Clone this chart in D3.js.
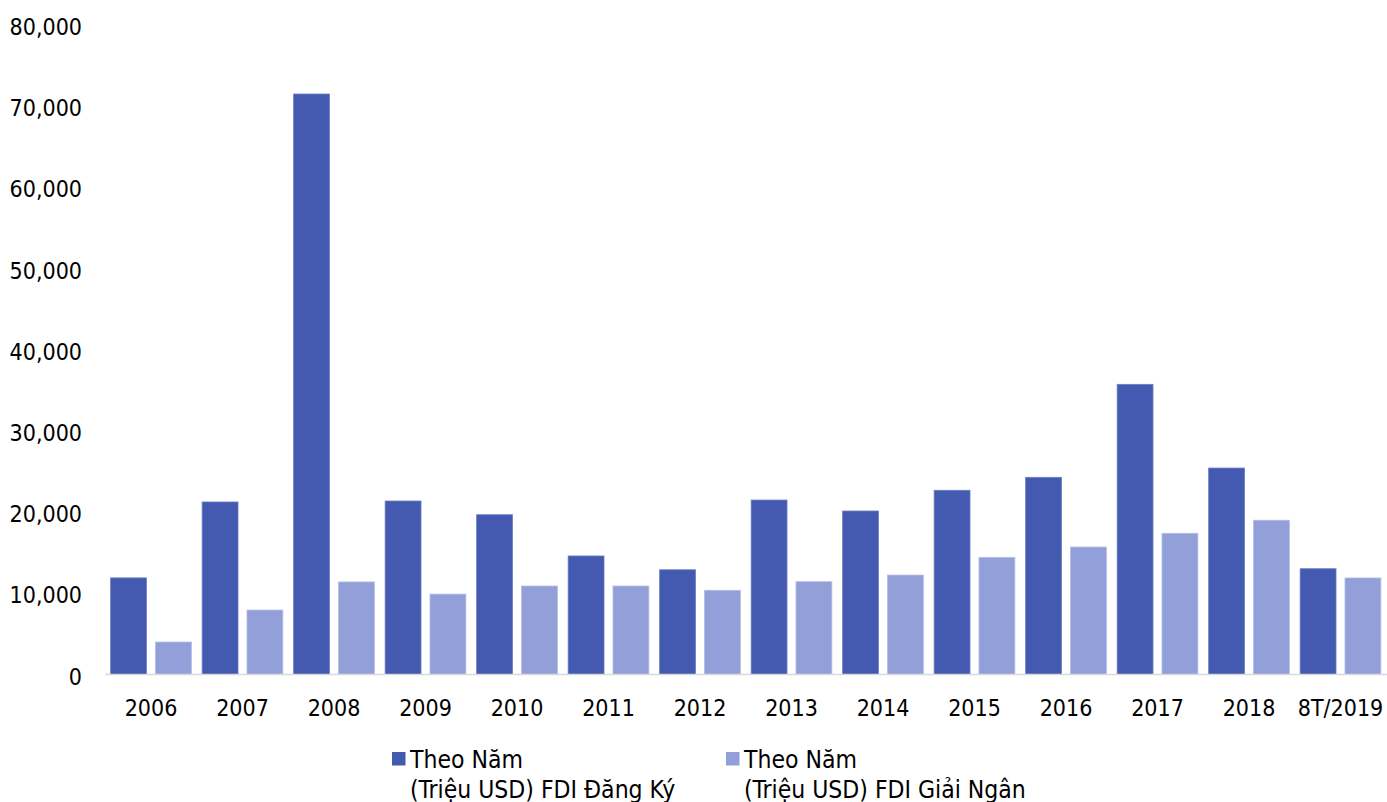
<!DOCTYPE html>
<html>
<head>
<meta charset="utf-8">
<script src="https://cdn.jsdelivr.net/npm/d3@7"></script>
<style>
  html, body { margin: 0; padding: 0; background: #fff; }
  svg text { font-family: "DejaVu Sans Condensed", "DejaVu Sans", sans-serif; font-stretch: condensed; fill: #000; }
</style>
</head>
<body>
<svg id="chart" width="1387" height="802"></svg>
<script>
const categories = ["2006","2007","2008","2009","2010","2011","2012","2013","2014","2015","2016","2017","2018","8T/2019"];
const seriesNames = ["Theo Năm\n(Triệu USD) FDI Đăng Ký", "Theo Năm\n(Triệu USD) FDI Giải Ngân"];
const registered = [11900, 21250, 71500, 21370, 19680, 14600, 12900, 21490, 20140, 22690, 24290, 35740, 25430, 13030];
const disbursed  = [4000, 7940, 11400, 9900, 10900, 10900, 10370, 11430, 12250, 14430, 15700, 17390, 19000, 11890];
const yTicks = [0, 10000, 20000, 30000, 40000, 50000, 60000, 70000, 80000];
const colors = ["#445AB0", "#939FD8"];
const strokes = ["#6D7EC4", "#B4BCE6"];

const svg = d3.select("#chart");
const fontSize = 23;

const x0 = d3.scaleBand().domain(categories).range([105.25, 1386.25]).paddingInner(0).paddingOuter(0);
const x1 = d3.scaleBand().domain([0, 1]).range([0, x0.bandwidth()]).paddingInner(0.2).paddingOuter(0.12);
const y = d3.scaleLinear().domain([0, 80000]).range([674.5, 25]);

// y-axis labels
const yAxis = d3.axisLeft(y).tickValues(yTicks).tickFormat(d3.format(",")).tickSize(0).tickPadding(0);
const gy = svg.append("g").attr("transform", "translate(82,0)").call(yAxis);
gy.select(".domain").remove();
gy.selectAll("text").attr("font-size", fontSize).attr("dy", null).attr("y", 9.5)
  .style("font-family", null).attr("font-family", null);

// bars
const data = [registered, disbursed];
const groups = svg.append("g").selectAll("g").data(categories).join("g")
  .attr("transform", d => `translate(${x0(d)},0)`);
groups.selectAll("rect").data((d, i) => [0, 1].map(s => ({ s, v: data[s][i] }))).join("rect")
  .attr("x", d => x1(d.s))
  .attr("width", x1.bandwidth())
  .attr("y", d => y(d.v))
  .attr("height", d => y(0) - y(d.v))
  .attr("fill", d => colors[d.s])
  .attr("stroke", d => strokes[d.s])
  .attr("stroke-width", 0.8);

// x axis
const xAxis = d3.axisBottom(x0).tickSize(0).tickPadding(0);
const gx = svg.append("g").attr("transform", `translate(0,${y(0)})`).call(xAxis);
gx.select(".domain").attr("stroke", "#D9D9D9").attr("stroke-width", 1.5)
  .attr("d", `M105,0H1387`);
gx.selectAll("text").attr("font-size", fontSize).attr("dy", null).attr("y", 41.5)
  .style("font-family", null).attr("font-family", null);

// legend
const legendX = [392, 726];
const legend = svg.append("g").selectAll("g").data(seriesNames).join("g")
  .attr("transform", (d, i) => `translate(${legendX[i]},752)`);
legend.append("rect").attr("width", 13.5).attr("height", 13.5).attr("fill", (d, i) => colors[i]);
legend.append("text").attr("font-size", 24.5)
  .selectAll("tspan").data(d => d.split("\n")).join("tspan")
  .attr("x", 18).attr("y", (d, i) => 16 + i * 29.5).text(d => d);
</script>
</body>
</html>
